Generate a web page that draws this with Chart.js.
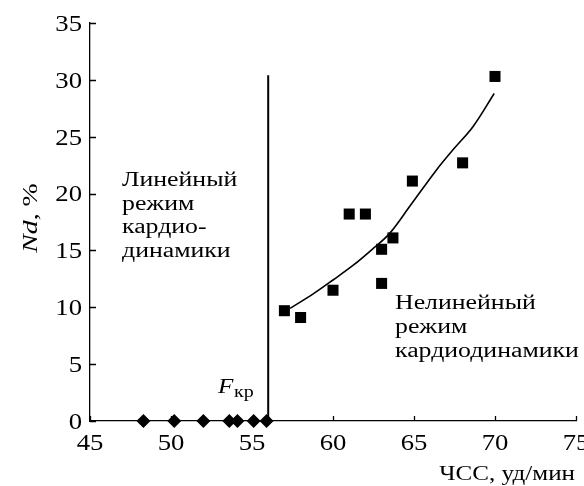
<!DOCTYPE html>
<html>
<head>
<meta charset="utf-8">
<script src="https://cdn.jsdelivr.net/npm/chart.js@4.4.1/dist/chart.umd.min.js"></script>
<style>
  body { margin: 0; background: #fff; }
  #wrap { width: 584px; height: 486px; }
</style>
</head>
<body>
<div id="wrap"><canvas id="chart"></canvas></div>
<script>
// Linear regime: HR values, Nd = 0
const hrLinear = [48.3, 50.2, 52.0, 53.6, 54.1, 55.1, 55.9];
const ndLinear = [0, 0, 0, 0, 0, 0, 0];

// Nonlinear regime points
const hrNonlinear = [57.0, 58.0, 60.0, 61.0, 62.0, 63.0, 63.0, 63.7, 64.9, 68.0, 70.0];
const ndNonlinear = [9.7, 9.1, 11.5, 18.2, 18.2, 15.1, 12.1, 16.1, 21.1, 22.7, 30.3];

// Trend curve
const hrTrend = [57.35, 58.8, 60.0, 61.25, 62.5, 63.5, 64.75, 66.4, 67.5, 68.65, 69.95];
const ndTrend = [9.9, 11.2, 12.4, 13.7, 15.2, 16.5, 18.9, 22.1, 24.0, 25.9, 28.8];

// Critical frequency line
const hrCritical = [56, 56];
const ndCritical = [0, 30.4];

const xTicks = [45, 50, 55, 60, 65, 70, 75];
const yTicks = [0, 5, 10, 15, 20, 25, 30, 35];

const SERIF = "'Liberation Serif', 'Times New Roman', serif";

function toPoints(xs, ys) {
  return xs.map((x, i) => ({ x, y: ys[i] }));
}

// the source lettering is wider than Liberation Serif, so stretch it a bit
function stretchText(ctx, text, x, y, font, sx, align) {
  ctx.save();
  ctx.font = font;
  const w = ctx.measureText(text).width * sx;
  let left = x;
  if (align === "center") left = x - w / 2;
  if (align === "right") left = x - w;
  ctx.translate(left, y);
  ctx.scale(sx, 1);
  ctx.textAlign = "left";
  ctx.fillText(text, 0, 0);
  ctx.restore();
  return w;
}

// inward ticks, tick labels, titles and text labels
const decorPlugin = {
  id: "decor",
  afterDraw(chart) {
    const { ctx, scales: { x, y } } = chart;
    ctx.save();
    ctx.strokeStyle = "#000";
    ctx.lineWidth = 1.3;
    ctx.beginPath();
    xTicks.forEach(v => {
      const px = Math.round(x.getPixelForValue(v)) + 0.5;
      ctx.moveTo(px, y.bottom);
      ctx.lineTo(px, y.bottom - 5);
    });
    yTicks.forEach(v => {
      const py = Math.round(y.getPixelForValue(v)) + 0.5;
      ctx.moveTo(x.left, py);
      ctx.lineTo(x.left + 6, py);
    });
    ctx.stroke();

    ctx.fillStyle = "#000";
    ctx.textBaseline = "alphabetic";

    const tickFont = "23px " + SERIF;
    xTicks.forEach(v => {
      stretchText(ctx, String(v), x.getPixelForValue(v), 450, tickFont, 1.16, "center");
    });
    yTicks.forEach(v => {
      stretchText(ctx, String(v), 82, y.getPixelForValue(v) + 7.8, tickFont, 1.16, "right");
    });

    // x axis title
    stretchText(ctx, "ЧСС, уд/мин", 575, 480, "22px " + SERIF, 1.14, "right");

    // y axis title: italic "Nd" + ", %"
    ctx.save();
    ctx.translate(37, 218);
    ctx.rotate(-Math.PI / 2);
    const s = 1.26;
    ctx.font = "italic 22px " + SERIF;
    const w1 = ctx.measureText("Nd").width * s;
    ctx.font = "22px " + SERIF;
    const w2 = ctx.measureText(", %").width * s;
    const start = -(w1 + w2) / 2;
    stretchText(ctx, "Nd", start, 0, "italic 22px " + SERIF, s, "left");
    stretchText(ctx, ", %", start + w1, 0, "22px " + SERIF, s, "left");
    ctx.restore();

    // region labels
    const labelFont = "20px " + SERIF;
    const leftLines = ["Линейный", "режим", "кардио-", "динамики"];
    leftLines.forEach((t, i) => stretchText(ctx, t, 122, 186 + i * 23.6, labelFont, 1.29, "left"));
    const rightLines = ["Нелинейный", "режим", "кардиодинамики"];
    rightLines.forEach((t, i) => stretchText(ctx, t, 395, 309 + i * 23.8, labelFont, 1.29, "left"));

    // F_kr
    stretchText(ctx, "F", 218, 393, "italic 21px " + SERIF, 1.2, "left");
    stretchText(ctx, "кр", 234, 397, "16px " + SERIF, 1.25, "left");
    ctx.restore();
  }
};

const chart = new Chart(document.getElementById("chart"), {
  type: "scatter",
  data: {
    datasets: [
      {
        data: toPoints(hrTrend, ndTrend),
        showLine: true,
        borderColor: "#000",
        borderWidth: 1.6,
        pointRadius: 0,
        tension: 0.35
      },
      {
        data: toPoints(hrCritical, ndCritical),
        showLine: true,
        borderColor: "#000",
        borderWidth: 2,
        pointRadius: 0
      },
      {
        data: toPoints(hrLinear, ndLinear),
        pointStyle: "rectRot",
        pointRadius: 7,
        backgroundColor: "#000",
        borderColor: "#000",
        borderWidth: 0,
        clip: false
      },
      {
        data: toPoints(hrNonlinear, ndNonlinear),
        pointStyle: "rect",
        pointRadius: 7.8,
        backgroundColor: "#000",
        borderColor: "#000",
        borderWidth: 0,
        clip: false
      }
    ]
  },
  options: {
    responsive: true,
    maintainAspectRatio: false,
    animation: false,
    layout: { padding: { top: 23, right: 8, left: 0, bottom: 0 } },
    plugins: {
      legend: { display: false },
      tooltip: { enabled: false }
    },
    scales: {
      x: {
        type: "linear",
        min: 45,
        max: 75,
        ticks: { display: false },
        grid: { display: false },
        border: { color: "#000", width: 1.3 },
        afterFit: s => { s.height = 65; s.paddingLeft = 0; s.paddingRight = 0; }
      },
      y: {
        min: 0,
        max: 35,
        ticks: { display: false },
        grid: { display: false },
        border: { color: "#000", width: 1.3 },
        afterFit: s => { s.width = 90; s.paddingTop = 0; s.paddingBottom = 0; }
      }
    }
  },
  plugins: [decorPlugin]
});
</script>
</body>
</html>
